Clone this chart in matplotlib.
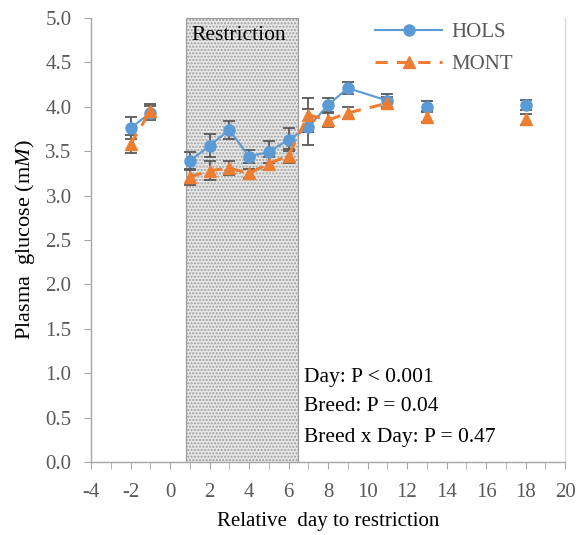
import matplotlib
matplotlib.use("Agg")
import matplotlib.pyplot as plt
import numpy as np
from matplotlib.ticker import MultipleLocator, FormatStrFormatter

plt.rcParams['font.family'] = ['Liberation Serif', 'DejaVu Serif']
plt.rcParams['mathtext.fontset'] = 'custom'
plt.rcParams['mathtext.it'] = 'Liberation Serif:italic'
plt.rcParams['mathtext.rm'] = 'Liberation Serif'
plt.rcParams['axes.unicode_minus'] = False

days = [-2, -1, 1, 2, 3, 4, 5, 6, 7, 8, 9, 11, 13, 18]
hols = [3.76, 3.93, 3.39, 3.56, 3.74, 3.44, 3.49, 3.63, 3.77, 4.02, 4.21, 4.07, 4.00, 4.02]
hols_se = [0.12, 0.08, 0.10, 0.13, 0.10, 0.07, 0.12, 0.13, 0.20, 0.08, 0.07, 0.07, 0.06, 0.06]
mont = [3.58, 3.95, 3.21, 3.28, 3.31, 3.25, 3.36, 3.45, 3.91, 3.85, 3.93, 4.04, 3.89, 3.86]
mont_se = [0.10, 0.08, 0.09, 0.11, 0.08, 0.05, 0.07, 0.08, 0.19, 0.08, 0.07, 0.07, 0.06, 0.06]
# connected segments (index ranges)
segments = [(0, 2), (2, 12), (12, 13), (13, 14)]

restr_start, restr_end = 0.8, 6.5
stats = ['Day: P < 0.001', 'Breed: P = 0.04', 'Breed x Day: P = 0.47']
stats_y = [0.95, 0.62, 0.28]

blue = '#5B9BD5'
orange = '#ED7D31'
ecol = '#595959'

fig = plt.figure(figsize=(5.76, 5.35), dpi=100)
ax = fig.add_axes([0.158, 0.1364, 0.823, 0.8300])

ax.axvspan(restr_start, restr_end, ymin=0, ymax=1, facecolor='#e8e8e8',
           edgecolor='#9a9a9a', hatch='.....', linewidth=0.8, zorder=0)
ax.text((restr_start + restr_end) / 2 - 0.15, 4.91, 'Restriction', ha='center', va='top',
        fontsize=15.5, zorder=1)

d = np.array(days, dtype=float)
h = np.array(hols); hs = np.array(hols_se)
m = np.array(mont); ms = np.array(mont_se)

ax.errorbar(d, h, yerr=hs, fmt='none', ecolor=ecol, elinewidth=1.3, capsize=4.5,
            capthick=1.3, zorder=2)
ax.errorbar(d, m, yerr=ms, fmt='none', ecolor=ecol, elinewidth=1.3, capsize=4.5,
            capthick=1.3, zorder=2)

for i, (a, b) in enumerate(segments):
    ax.plot(d[a:b], h[a:b], color=blue, lw=1.5, marker='o', ms=8,
            label='HOLS' if i == 0 else None, zorder=3)
for i, (a, b) in enumerate(segments):
    ax.plot(d[a:b], m[a:b], color=orange, lw=2.2, ls=(0, (4, 3)), marker='^', ms=8,
            label='MONT' if i == 0 else None, zorder=3)

ax.set_xlim(-4, 20)
ax.set_ylim(0, 5)
ax.xaxis.set_major_locator(MultipleLocator(2))
ax.xaxis.set_minor_locator(MultipleLocator(1))
ax.yaxis.set_major_locator(MultipleLocator(0.5))
ax.yaxis.set_major_formatter(FormatStrFormatter('%.1f'))

ax.spines['top'].set_visible(False)
ax.spines['left'].set_color('#a6a6a6')
ax.spines['bottom'].set_color('#a6a6a6')
ax.spines['right'].set_color('#d9d9d9')
for s in ['left', 'bottom', 'right']:
    ax.spines[s].set_linewidth(1.0)

ax.tick_params(axis='both', which='both', direction='out', color='#a6a6a6',
               labelcolor='#595959', labelsize=15)
ax.tick_params(axis='x', which='both', length=5, pad=10)
ax.tick_params(axis='y', length=5, pad=9)

ax.set_xlabel('Relative  day to restriction', fontsize=15, labelpad=7)
ax.set_ylabel('Plasma  glucose (m$\\it{M}$)', fontsize=16, labelpad=6)

leg = ax.legend(loc='upper left', bbox_to_anchor=(0.60, 0.99), frameon=False,
                fontsize=15, handlelength=3.2, handletextpad=0.45,
                labelspacing=0.6, borderpad=0, borderaxespad=0)
for t in leg.get_texts():
    t.set_color('#595959')

for s, yy in zip(stats, stats_y):
    ax.text(6.8, yy, s, fontsize=15.5, va='center', ha='left')

fig.savefig('out.png', dpi=100)
